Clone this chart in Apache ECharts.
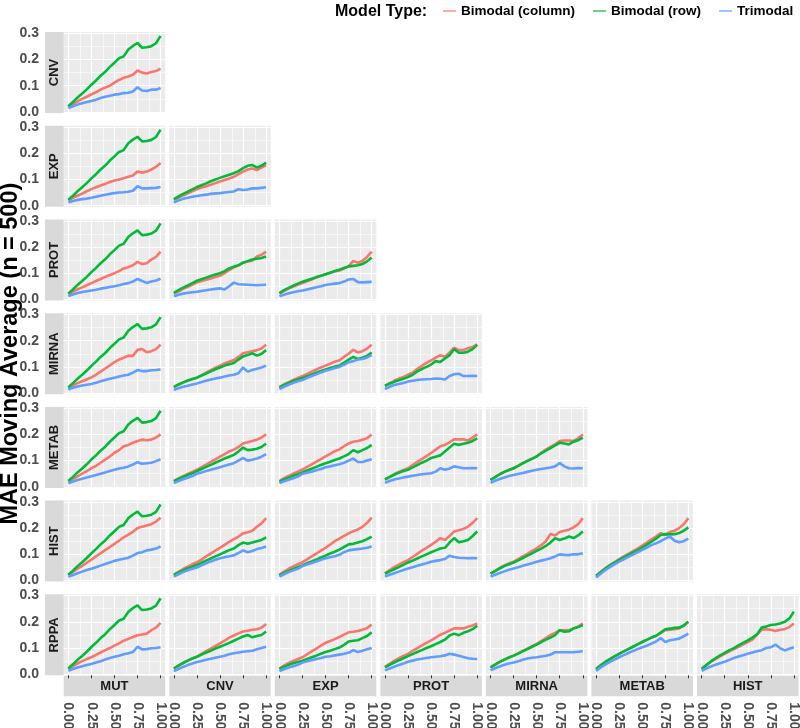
<!DOCTYPE html>
<html><head><meta charset="utf-8">
<script src="https://cdn.jsdelivr.net/npm/echarts@6/dist/echarts.min.js"></script>
<style>html,body{margin:0;padding:0;background:#fff}#c{width:800px;height:728px}</style>
</head><body><div id="c"></div>
<script>
const rowNames = ['CNV','EXP','PROT','MIRNA','METAB','HIST','RPPA'];
const colNames = ['MUT','CNV','EXP','PROT','MIRNA','METAB','HIST'];
const seriesNames = ['Bimodal (column)','Bimodal (row)','Trimodal'];
const colors = ['#F8766D','#00BA38','#619CFF'];
const xs = [0,0.05,0.1,0.15,0.2,0.25,0.3,0.35,0.4,0.45,0.5,0.55,0.6,0.65,0.7,0.75,0.8,0.85,0.9,0.95,1];
const yTicks = [0,0.1,0.2,0.3];
const yMinor = [0.05,0.15,0.25];
const xTicks = [0,0.25,0.5,0.75,1];
const xMinor = [0.125,0.375,0.625,0.875];
const yTitle = 'MAE Moving Average (n = 500)';
const legendTitle = 'Model Type:';

// Column MUT: "Bimodal (row)" curve (same in every row)
const MUT_row = [0.022,0.038,0.055,0.07,0.086,0.104,0.12,0.138,0.153,0.172,0.188,0.205,0.212,0.238,0.252,0.263,0.245,0.247,0.251,0.262,0.29];

const CNV_MUT_col = [0.02,0.03,0.04,0.05,0.058,0.067,0.075,0.085,0.093,0.1,0.112,0.122,0.13,0.135,0.142,0.158,0.15,0.147,0.152,0.156,0.165];
const CNV_MUT_tri = [0.015,0.022,0.028,0.033,0.038,0.042,0.047,0.053,0.058,0.062,0.066,0.068,0.072,0.073,0.078,0.094,0.082,0.08,0.085,0.085,0.091];

const EXP_MUT_col = [0.02,0.03,0.038,0.046,0.055,0.063,0.07,0.077,0.083,0.09,0.096,0.1,0.105,0.11,0.115,0.13,0.126,0.13,0.138,0.148,0.163];
const EXP_MUT_tri = [0.012,0.018,0.022,0.025,0.027,0.03,0.034,0.038,0.042,0.045,0.048,0.05,0.051,0.053,0.057,0.074,0.066,0.066,0.067,0.068,0.071];
const EXP_CNV_col = [0.022,0.03,0.039,0.047,0.055,0.063,0.069,0.074,0.08,0.086,0.092,0.098,0.104,0.11,0.12,0.13,0.138,0.142,0.136,0.145,0.155];
const EXP_CNV_row = [0.025,0.035,0.045,0.053,0.062,0.071,0.078,0.085,0.093,0.1,0.106,0.112,0.118,0.124,0.132,0.143,0.152,0.155,0.146,0.152,0.164];
const EXP_CNV_tri = [0.012,0.02,0.026,0.03,0.034,0.037,0.04,0.042,0.045,0.047,0.048,0.05,0.052,0.054,0.063,0.06,0.062,0.066,0.066,0.068,0.07];

const PROT_MUT_col = [0.02,0.03,0.038,0.046,0.054,0.062,0.07,0.078,0.086,0.093,0.1,0.108,0.118,0.123,0.13,0.143,0.135,0.138,0.152,0.162,0.182];
const PROT_MUT_tri = [0.013,0.019,0.024,0.028,0.031,0.034,0.037,0.041,0.044,0.047,0.05,0.054,0.059,0.062,0.068,0.078,0.07,0.063,0.068,0.072,0.079];
const PROT_CNV_col = [0.022,0.03,0.04,0.048,0.056,0.065,0.07,0.075,0.08,0.085,0.09,0.1,0.112,0.122,0.13,0.14,0.145,0.148,0.164,0.17,0.182];
const PROT_CNV_row = [0.025,0.035,0.045,0.053,0.062,0.071,0.077,0.083,0.089,0.095,0.1,0.108,0.118,0.125,0.13,0.14,0.146,0.152,0.155,0.158,0.164];
const PROT_CNV_tri = [0.012,0.018,0.022,0.025,0.027,0.029,0.032,0.035,0.038,0.04,0.042,0.038,0.05,0.064,0.058,0.057,0.056,0.055,0.054,0.055,0.056];
const PROT_EXP_col = [0.022,0.032,0.041,0.049,0.056,0.062,0.069,0.076,0.083,0.09,0.096,0.102,0.106,0.11,0.118,0.126,0.147,0.14,0.147,0.162,0.182];
const PROT_EXP_row = [0.024,0.035,0.044,0.052,0.06,0.067,0.073,0.079,0.085,0.09,0.096,0.102,0.108,0.113,0.12,0.126,0.128,0.13,0.135,0.145,0.16];
const PROT_EXP_tri = [0.012,0.018,0.023,0.027,0.031,0.034,0.038,0.042,0.046,0.05,0.055,0.058,0.06,0.062,0.068,0.076,0.078,0.066,0.065,0.066,0.067];

const MIRNA_MUT_col = [0.02,0.03,0.038,0.045,0.052,0.06,0.07,0.082,0.094,0.106,0.118,0.128,0.135,0.143,0.142,0.165,0.168,0.156,0.16,0.168,0.185];
const MIRNA_MUT_tri = [0.014,0.02,0.025,0.029,0.032,0.035,0.04,0.045,0.05,0.055,0.059,0.063,0.067,0.07,0.078,0.088,0.084,0.084,0.087,0.088,0.09];
const MIRNA_CNV_col = [0.022,0.032,0.04,0.047,0.053,0.059,0.068,0.078,0.088,0.097,0.105,0.113,0.12,0.126,0.138,0.152,0.156,0.16,0.164,0.17,0.185];
const MIRNA_CNV_row = [0.024,0.033,0.041,0.048,0.054,0.059,0.067,0.075,0.083,0.091,0.098,0.105,0.11,0.115,0.128,0.14,0.145,0.152,0.143,0.15,0.164];
const MIRNA_CNV_tri = [0.012,0.019,0.024,0.028,0.033,0.037,0.042,0.047,0.052,0.056,0.059,0.063,0.067,0.07,0.076,0.098,0.082,0.088,0.093,0.098,0.105];
const MIRNA_EXP_col = [0.022,0.033,0.042,0.05,0.058,0.065,0.073,0.082,0.09,0.098,0.105,0.112,0.12,0.125,0.138,0.15,0.165,0.155,0.16,0.17,0.185];
const MIRNA_EXP_row = [0.022,0.031,0.039,0.046,0.052,0.058,0.064,0.071,0.078,0.084,0.09,0.096,0.101,0.105,0.116,0.128,0.138,0.13,0.135,0.142,0.155];
const MIRNA_EXP_tri = [0.015,0.024,0.032,0.039,0.045,0.05,0.058,0.065,0.072,0.079,0.085,0.09,0.096,0.1,0.108,0.118,0.122,0.128,0.13,0.136,0.145];
const MIRNA_PROT_col = [0.028,0.038,0.047,0.055,0.062,0.07,0.078,0.093,0.104,0.115,0.125,0.135,0.145,0.138,0.155,0.173,0.164,0.164,0.171,0.176,0.186];
const MIRNA_PROT_row = [0.028,0.036,0.043,0.049,0.055,0.061,0.07,0.083,0.092,0.1,0.109,0.122,0.119,0.132,0.145,0.168,0.154,0.154,0.158,0.168,0.184];
const MIRNA_PROT_tri = [0.015,0.024,0.031,0.035,0.039,0.044,0.047,0.05,0.052,0.053,0.054,0.056,0.055,0.052,0.065,0.072,0.074,0.065,0.065,0.066,0.065];

const METAB_MUT_col = [0.02,0.03,0.04,0.05,0.06,0.07,0.08,0.092,0.104,0.116,0.13,0.14,0.155,0.16,0.168,0.175,0.18,0.178,0.18,0.188,0.2];
const METAB_MUT_tri = [0.014,0.02,0.026,0.031,0.036,0.04,0.045,0.05,0.055,0.06,0.065,0.07,0.073,0.078,0.085,0.094,0.088,0.09,0.092,0.098,0.105];
const METAB_CNV_col = [0.022,0.032,0.041,0.049,0.057,0.065,0.075,0.085,0.095,0.105,0.115,0.125,0.135,0.142,0.152,0.165,0.17,0.175,0.18,0.188,0.2];
const METAB_CNV_row = [0.022,0.03,0.038,0.045,0.052,0.06,0.068,0.076,0.084,0.092,0.1,0.108,0.115,0.122,0.135,0.15,0.14,0.142,0.145,0.152,0.165];
const METAB_CNV_tri = [0.014,0.022,0.029,0.035,0.041,0.05,0.055,0.06,0.065,0.07,0.075,0.08,0.085,0.09,0.1,0.11,0.1,0.103,0.108,0.115,0.125];
const METAB_EXP_col = [0.022,0.033,0.042,0.05,0.058,0.066,0.076,0.086,0.096,0.106,0.116,0.126,0.136,0.143,0.155,0.165,0.172,0.175,0.18,0.185,0.2];
const METAB_EXP_row = [0.02,0.028,0.035,0.042,0.048,0.055,0.062,0.069,0.076,0.083,0.09,0.096,0.102,0.108,0.116,0.125,0.14,0.132,0.14,0.148,0.16];
const METAB_EXP_tri = [0.014,0.021,0.027,0.033,0.039,0.05,0.054,0.058,0.063,0.068,0.075,0.078,0.082,0.086,0.092,0.1,0.108,0.095,0.095,0.1,0.105];
const METAB_PROT_col = [0.028,0.038,0.048,0.057,0.064,0.071,0.083,0.095,0.106,0.117,0.129,0.142,0.155,0.16,0.17,0.181,0.181,0.181,0.177,0.188,0.2];
const METAB_PROT_row = [0.028,0.037,0.046,0.054,0.06,0.065,0.074,0.083,0.092,0.1,0.11,0.115,0.12,0.135,0.15,0.164,0.16,0.164,0.168,0.175,0.185];
const METAB_PROT_tri = [0.015,0.022,0.028,0.032,0.036,0.039,0.042,0.045,0.048,0.05,0.052,0.058,0.071,0.065,0.07,0.078,0.075,0.071,0.071,0.072,0.071];
const METAB_MIRNA_col = [0.026,0.037,0.048,0.057,0.064,0.071,0.08,0.09,0.099,0.107,0.116,0.13,0.142,0.152,0.162,0.175,0.177,0.177,0.175,0.185,0.2];
const METAB_MIRNA_row = [0.026,0.037,0.048,0.057,0.064,0.071,0.08,0.09,0.099,0.107,0.116,0.128,0.138,0.148,0.158,0.168,0.165,0.162,0.172,0.178,0.188];
const METAB_MIRNA_tri = [0.015,0.023,0.03,0.036,0.041,0.045,0.049,0.053,0.057,0.061,0.065,0.068,0.071,0.074,0.078,0.091,0.078,0.071,0.07,0.072,0.071];

const HIST_MUT_col = [0.02,0.033,0.045,0.056,0.068,0.08,0.092,0.104,0.116,0.128,0.14,0.152,0.165,0.175,0.186,0.2,0.205,0.21,0.215,0.225,0.24];
const HIST_MUT_tri = [0.014,0.021,0.028,0.034,0.04,0.045,0.051,0.057,0.063,0.069,0.075,0.079,0.083,0.087,0.095,0.105,0.108,0.115,0.118,0.122,0.13];
const HIST_CNV_col = [0.022,0.033,0.044,0.053,0.062,0.07,0.08,0.092,0.103,0.114,0.125,0.136,0.148,0.158,0.168,0.18,0.184,0.19,0.205,0.218,0.238];
const HIST_CNV_row = [0.022,0.031,0.039,0.046,0.053,0.06,0.068,0.076,0.084,0.092,0.1,0.108,0.116,0.122,0.135,0.145,0.14,0.145,0.15,0.155,0.165];
const HIST_CNV_tri = [0.015,0.024,0.032,0.039,0.045,0.05,0.058,0.066,0.073,0.079,0.085,0.089,0.093,0.096,0.105,0.115,0.108,0.113,0.12,0.124,0.13];
const HIST_EXP_col = [0.022,0.034,0.045,0.054,0.062,0.07,0.081,0.092,0.103,0.114,0.125,0.137,0.15,0.16,0.17,0.18,0.188,0.195,0.205,0.22,0.24];
const HIST_EXP_row = [0.02,0.029,0.037,0.044,0.051,0.058,0.066,0.073,0.08,0.088,0.095,0.103,0.11,0.118,0.128,0.138,0.14,0.145,0.15,0.158,0.168];
const HIST_EXP_tri = [0.015,0.024,0.032,0.039,0.045,0.055,0.061,0.067,0.073,0.079,0.085,0.089,0.093,0.098,0.108,0.115,0.118,0.12,0.122,0.125,0.13];
const HIST_PROT_col = [0.028,0.04,0.051,0.061,0.07,0.078,0.09,0.102,0.114,0.125,0.136,0.148,0.162,0.155,0.17,0.187,0.192,0.197,0.206,0.22,0.238];
const HIST_PROT_row = [0.026,0.035,0.043,0.051,0.06,0.069,0.076,0.084,0.092,0.1,0.108,0.115,0.122,0.125,0.145,0.162,0.146,0.15,0.155,0.17,0.187];
const HIST_PROT_tri = [0.015,0.022,0.028,0.034,0.04,0.046,0.051,0.056,0.061,0.066,0.072,0.075,0.078,0.082,0.095,0.09,0.087,0.086,0.085,0.086,0.085];
const HIST_MIRNA_col = [0.026,0.037,0.048,0.058,0.065,0.072,0.082,0.092,0.102,0.113,0.123,0.135,0.15,0.178,0.172,0.185,0.19,0.194,0.203,0.215,0.238];
const HIST_MIRNA_row = [0.026,0.036,0.046,0.055,0.062,0.069,0.077,0.086,0.095,0.104,0.113,0.122,0.132,0.145,0.162,0.155,0.16,0.168,0.162,0.172,0.187];
const HIST_MIRNA_tri = [0.015,0.022,0.029,0.035,0.041,0.046,0.051,0.056,0.061,0.066,0.072,0.076,0.08,0.085,0.092,0.1,0.098,0.097,0.1,0.1,0.104];
const HIST_METAB_col = [0.018,0.033,0.047,0.059,0.07,0.082,0.092,0.102,0.112,0.122,0.133,0.145,0.157,0.168,0.181,0.174,0.185,0.19,0.2,0.215,0.238];
const HIST_METAB_row = [0.018,0.032,0.046,0.058,0.068,0.078,0.088,0.098,0.107,0.116,0.126,0.137,0.148,0.16,0.174,0.177,0.176,0.177,0.181,0.19,0.203];
const HIST_METAB_tri = [0.012,0.026,0.04,0.051,0.062,0.072,0.081,0.09,0.099,0.108,0.117,0.126,0.135,0.142,0.15,0.16,0.168,0.152,0.146,0.15,0.16];

const RPPA_MUT_col = [0.02,0.031,0.041,0.05,0.058,0.065,0.074,0.083,0.092,0.1,0.109,0.118,0.128,0.135,0.142,0.149,0.152,0.155,0.168,0.178,0.196];
const RPPA_MUT_tri = [0.013,0.02,0.026,0.031,0.035,0.039,0.045,0.05,0.056,0.062,0.067,0.071,0.076,0.08,0.085,0.105,0.095,0.096,0.099,0.1,0.103];
const RPPA_CNV_col = [0.022,0.033,0.043,0.052,0.06,0.067,0.078,0.088,0.098,0.108,0.118,0.128,0.14,0.148,0.156,0.163,0.166,0.17,0.172,0.178,0.192];
const RPPA_CNV_row = [0.022,0.033,0.043,0.052,0.06,0.067,0.075,0.083,0.09,0.098,0.105,0.112,0.12,0.128,0.136,0.144,0.15,0.141,0.146,0.15,0.163];
const RPPA_CNV_tri = [0.012,0.02,0.028,0.035,0.041,0.047,0.051,0.055,0.059,0.063,0.067,0.071,0.076,0.08,0.083,0.086,0.088,0.09,0.095,0.1,0.105];
const RPPA_EXP_col = [0.022,0.033,0.043,0.051,0.058,0.065,0.076,0.087,0.098,0.109,0.12,0.127,0.134,0.142,0.151,0.16,0.162,0.165,0.17,0.176,0.19];
const RPPA_EXP_row = [0.02,0.029,0.036,0.042,0.047,0.052,0.058,0.065,0.071,0.078,0.085,0.09,0.096,0.102,0.112,0.125,0.128,0.13,0.138,0.146,0.16];
const RPPA_EXP_tri = [0.012,0.019,0.026,0.031,0.036,0.045,0.05,0.054,0.058,0.062,0.067,0.069,0.072,0.075,0.078,0.082,0.092,0.085,0.09,0.095,0.1];
const RPPA_PROT_col = [0.028,0.04,0.051,0.061,0.07,0.078,0.089,0.1,0.11,0.12,0.129,0.14,0.151,0.158,0.167,0.175,0.175,0.175,0.181,0.186,0.194];
const RPPA_PROT_row = [0.026,0.036,0.045,0.053,0.061,0.069,0.077,0.085,0.092,0.1,0.107,0.115,0.123,0.132,0.148,0.155,0.149,0.158,0.164,0.172,0.185];
const RPPA_PROT_tri = [0.015,0.022,0.029,0.035,0.041,0.048,0.052,0.056,0.059,0.062,0.065,0.067,0.069,0.072,0.078,0.075,0.071,0.066,0.061,0.059,0.058];
const RPPA_MIRNA_col = [0.026,0.037,0.047,0.056,0.064,0.071,0.08,0.089,0.098,0.107,0.116,0.127,0.138,0.149,0.158,0.168,0.168,0.168,0.175,0.182,0.194];
const RPPA_MIRNA_row = [0.026,0.037,0.047,0.056,0.064,0.071,0.079,0.088,0.096,0.105,0.113,0.123,0.132,0.14,0.149,0.168,0.162,0.164,0.175,0.18,0.188];
const RPPA_MIRNA_tri = [0.015,0.023,0.03,0.036,0.041,0.045,0.05,0.055,0.06,0.063,0.065,0.068,0.071,0.075,0.084,0.084,0.084,0.084,0.084,0.086,0.088];
const RPPA_METAB_col = [0.02,0.034,0.047,0.058,0.068,0.078,0.087,0.096,0.105,0.114,0.123,0.132,0.14,0.146,0.157,0.168,0.17,0.172,0.175,0.185,0.2];
const RPPA_METAB_row = [0.02,0.034,0.047,0.058,0.068,0.078,0.087,0.096,0.105,0.114,0.123,0.131,0.14,0.147,0.159,0.172,0.174,0.177,0.178,0.186,0.2];
const RPPA_METAB_tri = [0.013,0.026,0.037,0.047,0.056,0.065,0.073,0.081,0.089,0.096,0.103,0.109,0.117,0.125,0.138,0.123,0.13,0.133,0.136,0.145,0.155];
const RPPA_HIST_col = [0.02,0.034,0.047,0.058,0.068,0.078,0.087,0.096,0.105,0.114,0.123,0.132,0.15,0.17,0.172,0.17,0.165,0.17,0.172,0.18,0.194];
const RPPA_HIST_row = [0.02,0.035,0.049,0.061,0.072,0.082,0.091,0.1,0.11,0.12,0.129,0.14,0.152,0.178,0.182,0.188,0.19,0.194,0.2,0.212,0.239];
const RPPA_HIST_tri = [0.013,0.022,0.03,0.036,0.042,0.048,0.055,0.062,0.068,0.073,0.078,0.083,0.088,0.092,0.1,0.103,0.113,0.1,0.091,0.097,0.103];

const panelData = {
  'CNV|MUT': [CNV_MUT_col, MUT_row, CNV_MUT_tri],
  'EXP|MUT': [EXP_MUT_col, MUT_row, EXP_MUT_tri],
  'EXP|CNV': [EXP_CNV_col, EXP_CNV_row, EXP_CNV_tri],
  'PROT|MUT': [PROT_MUT_col, MUT_row, PROT_MUT_tri],
  'PROT|CNV': [PROT_CNV_col, PROT_CNV_row, PROT_CNV_tri],
  'PROT|EXP': [PROT_EXP_col, PROT_EXP_row, PROT_EXP_tri],
  'MIRNA|MUT': [MIRNA_MUT_col, MUT_row, MIRNA_MUT_tri],
  'MIRNA|CNV': [MIRNA_CNV_col, MIRNA_CNV_row, MIRNA_CNV_tri],
  'MIRNA|EXP': [MIRNA_EXP_col, MIRNA_EXP_row, MIRNA_EXP_tri],
  'MIRNA|PROT': [MIRNA_PROT_col, MIRNA_PROT_row, MIRNA_PROT_tri],
  'METAB|MUT': [METAB_MUT_col, MUT_row, METAB_MUT_tri],
  'METAB|CNV': [METAB_CNV_col, METAB_CNV_row, METAB_CNV_tri],
  'METAB|EXP': [METAB_EXP_col, METAB_EXP_row, METAB_EXP_tri],
  'METAB|PROT': [METAB_PROT_col, METAB_PROT_row, METAB_PROT_tri],
  'METAB|MIRNA': [METAB_MIRNA_col, METAB_MIRNA_row, METAB_MIRNA_tri],
  'HIST|MUT': [HIST_MUT_col, MUT_row, HIST_MUT_tri],
  'HIST|CNV': [HIST_CNV_col, HIST_CNV_row, HIST_CNV_tri],
  'HIST|EXP': [HIST_EXP_col, HIST_EXP_row, HIST_EXP_tri],
  'HIST|PROT': [HIST_PROT_col, HIST_PROT_row, HIST_PROT_tri],
  'HIST|MIRNA': [HIST_MIRNA_col, HIST_MIRNA_row, HIST_MIRNA_tri],
  'HIST|METAB': [HIST_METAB_col, HIST_METAB_row, HIST_METAB_tri],
  'RPPA|MUT': [RPPA_MUT_col, MUT_row, RPPA_MUT_tri],
  'RPPA|CNV': [RPPA_CNV_col, RPPA_CNV_row, RPPA_CNV_tri],
  'RPPA|EXP': [RPPA_EXP_col, RPPA_EXP_row, RPPA_EXP_tri],
  'RPPA|PROT': [RPPA_PROT_col, RPPA_PROT_row, RPPA_PROT_tri],
  'RPPA|MIRNA': [RPPA_MIRNA_col, RPPA_MIRNA_row, RPPA_MIRNA_tri],
  'RPPA|METAB': [RPPA_METAB_col, RPPA_METAB_row, RPPA_METAB_tri],
  'RPPA|HIST': [RPPA_HIST_col, RPPA_HIST_row, RPPA_HIST_tri]
};

// ---- layout ----
const FONT = '"Liberation Sans", Arial, Helvetica, sans-serif';
const L0 = 63.7, PX = 105.55, PW = 101.5;
const T0 = 32, PY = 93.72, PH = 81;
const STRIP_L = 45, STRIP_H = 20.5;
const Y_MIN = -0.004, Y_MAX = 0.305, X_MIN = -0.05, X_MAX = 1.05;

const grids = [], xAxes = [], yAxes = [], series = [], graphics = [];
const gridLineData = [
  ...yTicks.map(v => ({yAxis: v, lineStyle: {width: 1.2}})),
  ...yMinor.map(v => ({yAxis: v, lineStyle: {width: 0.6}})),
  ...xTicks.map(v => ({xAxis: v, lineStyle: {width: 1.2}})),
  ...xMinor.map(v => ({xAxis: v, lineStyle: {width: 0.6}}))
];
let gi = 0;
rowNames.forEach((rn, r) => {
  colNames.forEach((cn, c) => {
    if (c > r) return;
    const vals = panelData[rn + '|' + cn];
    const isBottom = r === rowNames.length - 1, isLeft = c === 0;
    grids.push({left: L0 + PX * c, top: T0 + PY * r, width: PW, height: PH, show: true,
      backgroundColor: '#EBEBEB', borderWidth: 0, containLabel: false, outerBoundsMode: 'none'});
    xAxes.push({type: 'value', gridIndex: gi, min: X_MIN, max: X_MAX, offset: STRIP_H + 0.5,
      axisLine: {show: false}, splitLine: {show: false},
      axisTick: {show: isBottom, customValues: xTicks, length: 4, lineStyle: {color: '#333333', width: 1}},
      axisLabel: {show: isBottom, customValues: xTicks, rotate: -90, margin: 6,
        formatter: v => Number(v).toFixed(2), color: '#4D4D4D', fontSize: 14, fontWeight: 'bold', fontFamily: FONT}});
    yAxes.push({type: 'value', gridIndex: gi, min: Y_MIN, max: Y_MAX, offset: L0 - STRIP_L,
      axisLine: {show: false}, splitLine: {show: false},
      axisTick: {show: isLeft, customValues: yTicks, length: 4, lineStyle: {color: '#333333', width: 1}},
      axisLabel: {show: isLeft, customValues: yTicks, margin: 6,
        formatter: v => Number(v).toFixed(1), color: '#4D4D4D', fontSize: 14, fontWeight: 'bold', fontFamily: FONT}});
    vals.forEach((arr, k) => {
      const s = {type: 'line', name: seriesNames[k], xAxisIndex: gi, yAxisIndex: gi,
        data: xs.map((x, i) => [x, arr[i]]), showSymbol: false, symbol: 'none',
        lineStyle: {color: colors[k], width: 2.6}, itemStyle: {color: colors[k]},
        emphasis: {disabled: true}, silent: true, animation: false, z: 3};
      if (k === 0) {
        s.markLine = {silent: true, symbol: ['none', 'none'], label: {show: false}, animation: false, z: 1,
          emphasis: {disabled: true}, lineStyle: {color: '#FFFFFF', type: 'solid', width: 1.2},
          data: gridLineData};
      }
      series.push(s);
    });
    gi++;
  });
});

// strips
rowNames.forEach((rn, r) => {
  const top = T0 + PY * r;
  graphics.push({type: 'rect', silent: true, z: 0, shape: {x: STRIP_L, y: top, width: L0 - STRIP_L, height: PH}, style: {fill: '#D9D9D9'}});
  graphics.push({type: 'text', silent: true, z: 1, x: (STRIP_L + L0) / 2, y: top + PH / 2, rotation: Math.PI / 2,
    style: {text: rn, fill: '#1A1A1A', fontSize: 13, fontWeight: 'bold', fontFamily: FONT, align: 'center', verticalAlign: 'middle'}});
});
const bottomTop = T0 + PY * (rowNames.length - 1) + PH + 0.5;
colNames.forEach((cn, c) => {
  const left = L0 + PX * c;
  graphics.push({type: 'rect', silent: true, z: 0, shape: {x: left, y: bottomTop, width: PW, height: STRIP_H}, style: {fill: '#D9D9D9'}});
  graphics.push({type: 'text', silent: true, z: 1, x: left + PW / 2, y: bottomTop + STRIP_H / 2,
    style: {text: cn, fill: '#1A1A1A', fontSize: 13, fontWeight: 'bold', fontFamily: FONT, align: 'center', verticalAlign: 'middle'}});
});
// y title
graphics.push({type: 'text', silent: true, x: 11, y: T0 + (PY * 6 + PH) / 2, rotation: Math.PI / 2,
  style: {text: yTitle, fill: '#000000', fontSize: 23.5, fontWeight: 'bold', fontFamily: FONT, align: 'center', verticalAlign: 'middle'}});
// legend title
graphics.push({type: 'text', silent: true, x: 335, y: 11.5,
  style: {text: legendTitle, fill: '#000000', fontSize: 16, fontWeight: 'bold', fontFamily: FONT, align: 'left', verticalAlign: 'middle'}});

const chart = echarts.init(document.getElementById('c'), null, {renderer: 'canvas'});
chart.setOption({
  animation: false,
  backgroundColor: '#FFFFFF',
  grid: grids, xAxis: xAxes, yAxis: yAxes, series: series,
  legend: {show: true, data: seriesNames, left: 443, top: 4, width: 357, padding: 0, icon: 'rect', itemWidth: 13, itemHeight: 2,
    itemGap: 18, selectedMode: false, itemStyle: {opacity: 0.6},
    textStyle: {fontSize: 13.5, fontWeight: 'bold', color: '#000000', fontFamily: FONT}},
  graphic: {elements: graphics}
});
</script></body></html>
